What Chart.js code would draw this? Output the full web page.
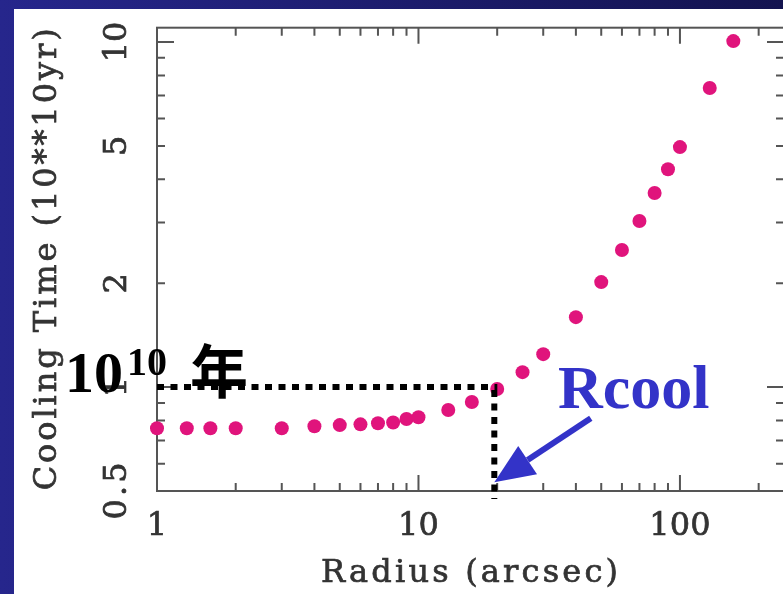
<!DOCTYPE html>
<html>
<head>
<meta charset="utf-8">
<script src="https://cdn.jsdelivr.net/npm/chart.js@4/dist/chart.umd.min.js"></script>
<style>
  html, body { margin: 0; padding: 0; width: 783px; height: 594px; overflow: hidden;
    background: linear-gradient(to right, #26268c, #13134f); }
  #sheet { position: absolute; left: 14px; top: 9px; right: 0; bottom: 0; background: #fff; }
  #wrap { position: absolute; left: 0; top: 0; width: 800px; height: 594px; }
</style>
</head>
<body>
<div id="sheet"></div>
<div id="wrap"><canvas id="chart"></canvas></div>
<script>
// data (radius in arcsec, cooling time in 10^10 yr)
const radius = [1, 1.3, 1.6, 2, 3, 4, 5, 6, 7, 8, 9, 10, 13, 16, 20, 25, 30, 40, 50, 60, 70, 80, 90, 100, 130, 160];
const coolingTime = [0.76, 0.76, 0.76, 0.76, 0.76, 0.77, 0.776, 0.78, 0.786, 0.79, 0.808, 0.818, 0.858, 0.905, 0.987, 1.105, 1.246, 1.595, 2.015, 2.495, 3.03, 3.65, 4.28, 4.96, 7.36, 10.06];

const xTickLabels = [1, 10, 100];
const yTickLabels = [0.5, 1, 2, 5, 10];
const xTitle = "Radius (arcsec)";
const yTitle = "Cooling Time (10**10yr)";

// annotation: cooling radius where t_cool = 10^10 yr
const rCool = 19.5;
const tCool = 1;
const arrowFrom = [45.6, 0.813];
const arrowTo = [19.5, 0.53];

const axisFont = "32px 'DejaVu Serif', serif";
const axisColor = "#333";

function minorTicks(min, max) {
  const out = [];
  for (let d = Math.pow(10, Math.floor(Math.log10(min))); d <= max; d *= 10) {
    for (let m = 2; m < 10; m++) {
      const v = +(m * d).toPrecision(3);
      if (v > min && v < max) out.push(v);
    }
  }
  return out;
}

// spread letters so the string spans a given width
function spacedText(ctx, text, x, y, width) {
  ctx.letterSpacing = "0px";
  const w = ctx.measureText(text).width;
  const sp = width && text.length > 1 ? Math.max(0, (width - w) / (text.length - 1)) : 0;
  ctx.letterSpacing = sp + "px";
  ctx.fillText(text, x + sp / 2, y);
  ctx.strokeText(text, x + sp / 2, y);
  ctx.letterSpacing = "0px";
}

const axesPlugin = {
  id: "axesPlugin",
  beforeDatasetsDraw(chart) {
    const { ctx, chartArea: a, scales: { x, y } } = chart;
    ctx.save();
    ctx.strokeStyle = "#555";
    ctx.lineWidth = 2;
    ctx.strokeRect(a.left, a.top, a.right - a.left, a.bottom - a.top);

    // ticks on all four sides, pointing inward
    const xs = [...xTickLabels.map(v => [v, 16]), ...minorTicks(x.min, x.max).map(v => [v, 8])];
    xs.forEach(([v, len]) => {
      const px = x.getPixelForValue(v);
      ctx.beginPath();
      ctx.moveTo(px, a.bottom); ctx.lineTo(px, a.bottom - len);
      ctx.moveTo(px, a.top); ctx.lineTo(px, a.top + len);
      ctx.stroke();
    });
    const ys = [[1, 17], [10, 17], ...minorTicks(y.min, y.max).filter(v => v !== 10).map(v => [v, 8])];
    ys.forEach(([v, len]) => {
      const py = y.getPixelForValue(v);
      ctx.beginPath();
      ctx.moveTo(a.left, py); ctx.lineTo(a.left + len, py);
      ctx.moveTo(a.right, py); ctx.lineTo(a.right - len, py);
      ctx.stroke();
    });

    // labels
    ctx.fillStyle = axisColor;
    ctx.strokeStyle = axisColor;
    ctx.lineWidth = 0.7;
    ctx.font = axisFont;
    ctx.textAlign = "center";
    ctx.textBaseline = "middle";
    xTickLabels.forEach(v => spacedText(ctx, String(v), x.getPixelForValue(v), a.bottom + 36, String(v).length * 20.5));
    spacedText(ctx, xTitle, (a.left + a.right) / 2 - 1, a.bottom + 83, 297);
    yTickLabels.forEach(v => {
      ctx.save();
      ctx.translate(a.left - 39, y.getPixelForValue(v));
      ctx.rotate(-Math.PI / 2);
      const s = String(v);
      spacedText(ctx, s, 0, 0, s.length * 19);
      ctx.restore();
    });
    ctx.save();
    ctx.translate(48, (a.top + a.bottom) / 2);
    ctx.rotate(-Math.PI / 2);
    spacedText(ctx, yTitle, 0, 0, 462);
    ctx.restore();
    ctx.restore();
  },
  afterDatasetsDraw(chart) {
    const { ctx, chartArea: a, scales: { x, y } } = chart;
    ctx.save();
    // dotted guide lines
    const gx = x.getPixelForValue(rCool);
    const gy = y.getPixelForValue(tCool);
    ctx.strokeStyle = "#000";
    ctx.lineWidth = 6;
    ctx.setLineDash([7, 6.5]);
    ctx.beginPath();
    ctx.moveTo(a.left, gy); ctx.lineTo(gx + 3, gy);
    ctx.stroke();
    ctx.beginPath();
    ctx.moveTo(gx, gy + 3); ctx.lineTo(gx, a.bottom + 8);
    ctx.stroke();
    ctx.setLineDash([]);

    // 10^10 年
    ctx.fillStyle = "#000";
    ctx.textBaseline = "alphabetic";
    ctx.textAlign = "left";
    ctx.font = "bold 58px 'Liberation Serif', serif";
    ctx.fillText("10", 65, gy + 5);
    ctx.font = "bold 40px 'Liberation Serif', serif";
    ctx.fillText("10", 127, gy - 12);
    ctx.font = "bold 58px 'Noto Sans CJK JP', sans-serif";
    ctx.fillText("年", 190, gy + 6);

    // Rcool label and arrow
    const blue = "#3333c8";
    ctx.fillStyle = blue;
    ctx.font = "bold 62px 'Liberation Serif', serif";
    ctx.fillText("Rcool", 558, gy + 21);

    const x0 = x.getPixelForValue(arrowFrom[0]), y0 = y.getPixelForValue(arrowFrom[1]);
    const x1 = x.getPixelForValue(arrowTo[0]), y1 = y.getPixelForValue(arrowTo[1]);
    const ang = Math.atan2(y1 - y0, x1 - x0);
    const head = 40, half = 17;
    const bx = x1 - head * Math.cos(ang), by = y1 - head * Math.sin(ang);
    ctx.strokeStyle = blue;
    ctx.lineWidth = 6;
    ctx.beginPath();
    ctx.moveTo(x0, y0); ctx.lineTo(bx, by);
    ctx.stroke();
    ctx.beginPath();
    ctx.moveTo(x1, y1);
    ctx.lineTo(bx + half * Math.sin(ang), by - half * Math.cos(ang));
    ctx.lineTo(bx - half * Math.sin(ang), by + half * Math.cos(ang));
    ctx.closePath();
    ctx.fill();
    ctx.restore();
  }
};

new Chart(document.getElementById("chart"), {
  type: "scatter",
  data: {
    datasets: [{
      data: radius.map((r, i) => ({ x: r, y: coolingTime[i] })),
      backgroundColor: "#e0147c",
      borderWidth: 0,
      pointRadius: 7,
      clip: false
    }]
  },
  options: {
    responsive: true,
    maintainAspectRatio: false,
    animation: false,
    layout: { padding: { left: 157, right: 16, top: 27.7, bottom: 103 } },
    plugins: { legend: { display: false }, tooltip: { enabled: false } },
    scales: {
      x: { type: "logarithmic", min: 1, max: 250, display: false },
      y: { type: "logarithmic", min: 0.5, max: 11, display: false }
    }
  },
  plugins: [axesPlugin]
});
</script>
</body>
</html>
